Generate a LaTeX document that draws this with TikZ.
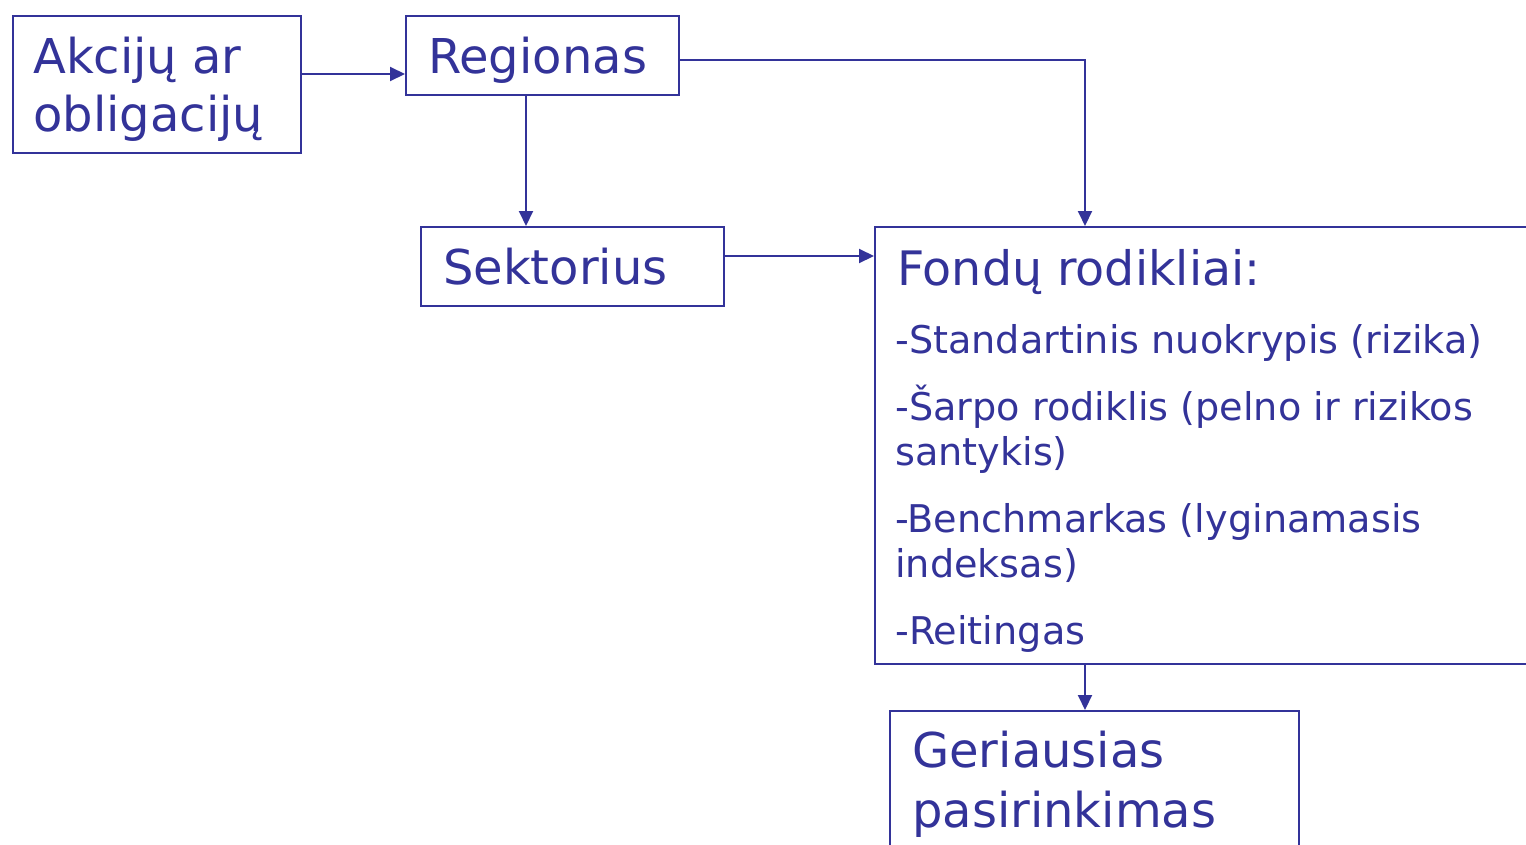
\documentclass[tikz,border=0pt]{standalone}
\usepackage{fontspec}
\setmainfont{DejaVu Sans}
\usetikzlibrary{arrows.meta}
\definecolor{navy}{RGB}{51,51,153}
\begin{document}
\begin{tikzpicture}[x=1pt,y=-1pt,
  box/.style={draw=navy, line width=2.3pt, inner sep=0pt, anchor=north west},
  big/.style={text=navy, font=\fontsize{48}{58}\selectfont, anchor=base west, inner sep=0pt},
  head/.style={text=navy, font=\fontsize{47.5}{56}\selectfont, anchor=base west, inner sep=0pt},
  item/.style={text=navy, font=\fontsize{38.2}{45}\selectfont, anchor=base west, inner sep=0pt},
  conn/.style={draw=navy, line width=2pt, -{Triangle[length=15pt,width=14pt]}}]
\useasboundingbox (0,0) rectangle (1526,844);
\clip (0,0) rectangle (1526,844);
% boxes
\node[box, minimum width=288pt, minimum height=137pt] (A) at (12,15) {};
\node[box, minimum width=273pt, minimum height=79pt] (R) at (405,15) {};
\node[box, minimum width=303pt, minimum height=79pt] (S) at (420,226) {};
\node[box, minimum width=700pt, minimum height=437pt] (F) at (874,226) {};
\node[box, minimum width=409pt, minimum height=200pt] (G) at (889,710) {};
% texts
\node[big] (tA1) at (33,73) {Akcijų ar};
\node[big] (tA2) at (33,131) {obligacijų};
\node[big] (tR) at (428,73) {Regionas};
\node[big] (tS) at (443,284) {Sektorius};
\node[head] (tF) at (897,285) {Fondų rodikliai:};
\node[item] (i1) at (895,353) {-Standartinis nuokrypis (rizika)};
\node[item] (i2) at (895,420) {-Šarpo rodiklis (pelno ir rizikos};
\node[item] (i2b) at (895,465) {santykis)};
\node[item] (i3) at (895,532) {-Benchmarkas (lyginamasis};
\node[item] (i3b) at (895,577) {indeksas)};
\node[item] (i4) at (895,644) {-Reitingas};
\node[big] (tG1) at (912,767) {Geriausias};
\node[big] (tG2) at (912,827) {pasirinkimas};
% connectors
\draw[conn] (A.east |- 0,74) -- (R.west |- 0,74);
\draw[conn] (R.east |- 0,60) -| (1085,0 |- F.north);
\draw[conn] (526,0 |- R.south) -- (526,0 |- S.north);
\draw[conn] (S.east |- 0,256) -- (F.west |- 0,256);
\draw[conn] (1085,0 |- F.south) -- (1085,0 |- G.north);
\end{tikzpicture}
\end{document}
